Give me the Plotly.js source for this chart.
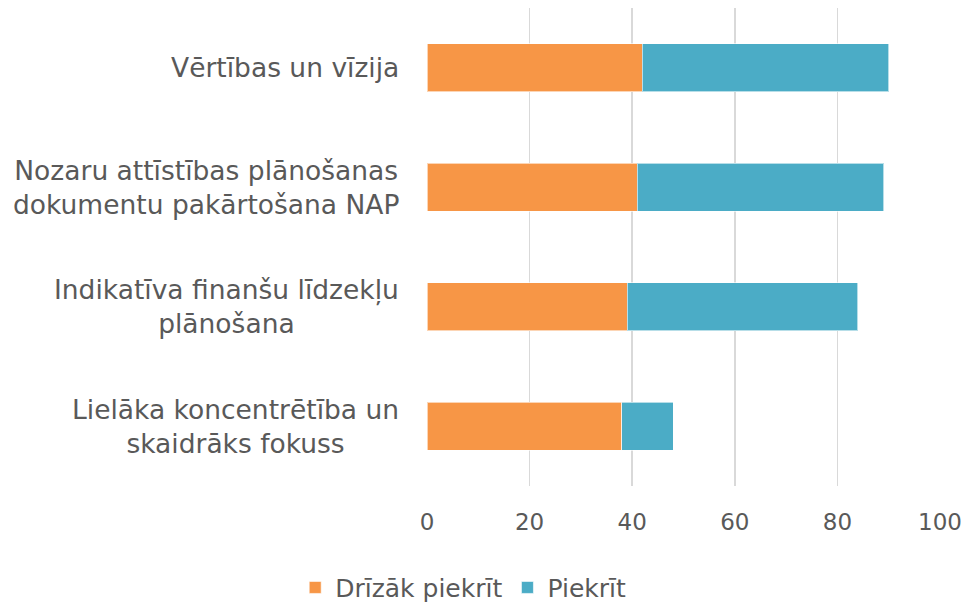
<!DOCTYPE html>
<html>
<head>
<meta charset="utf-8">
<script src="https://cdn.plot.ly/plotly-3.0.1.min.js"></script>
<style>html,body{margin:0;padding:0;background:#fff;}#chart{width:965px;height:609px;}</style>
</head>
<body>
<div id="chart"></div>
<script>
const categories = [
  "Vērtības un vīzija",
  "Nozaru attīstības plānošanas<br>dokumentu pakārtošana NAP",
  "Indikatīva finanšu līdzekļu<br>plānošana",
  "Lielāka koncentrētība un<br>skaidrāks fokuss"
];
const seriesNames = ["Drīzāk piekrīt", "Piekrīt"];
const drizakPiekrit = [42, 41, 39, 38];
const piekrit = [48, 48, 45, 10];
const xTicks = [0, 20, 40, 60, 80, 100];

const fontFam = "DejaVu Sans, Verdana, sans-serif";
const txtColor = "#595959";

const traces = [
  {type: "bar", orientation: "h", name: seriesNames[0], y: categories, x: drizakPiekrit,
   marker: {color: "#F79646", line: {color: "rgba(255,255,255,0.6)", width: 1}}, width: 0.4},
  {type: "bar", orientation: "h", name: seriesNames[1], y: categories, x: piekrit,
   marker: {color: "#4BACC6", line: {color: "rgba(255,255,255,0.6)", width: 1}}, width: 0.4}
];

const annotations = categories.map(c => ({
  xref: "paper", yref: "y", x: 0, y: c, xanchor: "right", yanchor: "middle",
  xshift: -26, text: c, showarrow: false, align: "center",
  font: {family: fontFam, size: 26.5, color: txtColor}
}));

const layout = {
  width: 965, height: 609,
  margin: {l: 427, r: 25, t: 8, b: 123},
  barmode: "stack",
  paper_bgcolor: "#fff", plot_bgcolor: "#fff",
  showlegend: true,
  legend: {orientation: "h", xref: "container", yref: "container", x: 0.48, xanchor: "center",
           y: 0.035, yanchor: "middle", font: {family: fontFam, size: 25, color: txtColor},
           traceorder: "normal", itemwidth: 30},
  xaxis: {range: [0, 100], tickvals: xTicks, ticktext: xTicks.map(String),
          showgrid: true, gridcolor: "#D9D9D9", gridwidth: 1.5, zeroline: false,
          showline: false, ticks: "", ticklabelstandoff: 20,
          tickfont: {family: fontFam, size: 23, color: txtColor}, fixedrange: true},
  yaxis: {autorange: "reversed", showticklabels: false, showgrid: false, zeroline: false,
          showline: false, ticks: ""},
  annotations: annotations
};

Plotly.newPlot("chart", traces, layout, {displayModeBar: false, staticPlot: true});
</script>
</body>
</html>
